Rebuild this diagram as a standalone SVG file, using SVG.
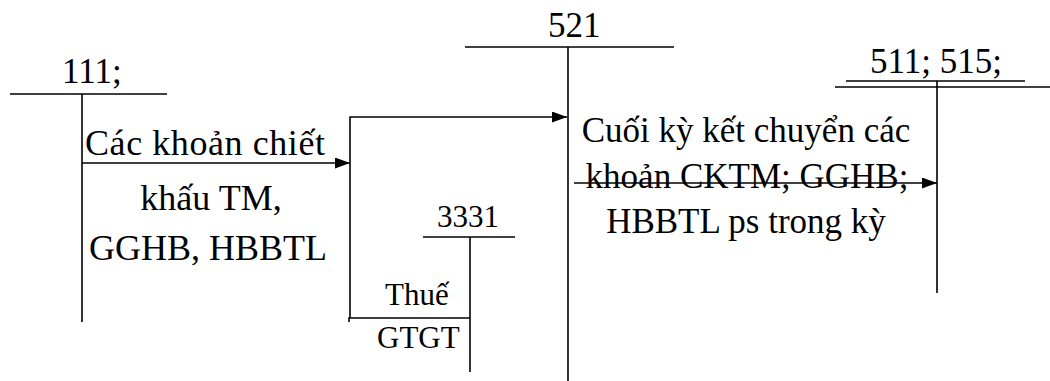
<svg xmlns="http://www.w3.org/2000/svg" width="1050" height="381" viewBox="0 0 1050 381">
<style>
  .ln { stroke: #000; stroke-width: 1.6; fill: none; }
  text { font-family: 'Liberation Serif', 'DejaVu Serif', serif; fill: #000; }
  .big { font-size: 35px; }
  .lft { font-size: 36px; }
  .mid { font-size: 31px; }
</style>
<defs>
  <marker id="arr" viewBox="0 0 15 11" refX="15" refY="5.5" markerWidth="15" markerHeight="11" markerUnits="userSpaceOnUse" orient="auto">
    <path d="M0,0 L15,5.5 L0,11 Z" fill="#000"/>
  </marker>
</defs>
<rect width="1050" height="381" fill="#fff"/>

<g id="acc111">
  <text class="big" x="62" y="83">111;</text>
  <line class="ln" x1="10" y1="94" x2="167" y2="94"/>
  <line class="ln" x1="82" y1="94" x2="82" y2="322"/>
</g>

<g id="acc521">
  <text class="big" x="548" y="37">521</text>
  <line class="ln" x1="465" y1="47" x2="674" y2="47"/>
  <line class="ln" x1="568" y1="47" x2="568" y2="381"/>
</g>

<g id="acc3331">
  <text class="mid" x="437" y="227">3331</text>
  <line class="ln" x1="423" y1="237" x2="515" y2="237"/>
  <line class="ln" x1="470" y1="237" x2="470" y2="372"/>
</g>

<g id="acc511">
  <text class="big" x="870" y="73">511; 515;</text>
  <line class="ln" x1="846" y1="81" x2="1025" y2="81"/>
  <line class="ln" x1="835" y1="87" x2="1050" y2="87"/>
  <line class="ln" x1="937" y1="81" x2="937" y2="293"/>
</g>

<g id="labels">
  <text class="lft" x="85" y="155" textLength="240" lengthAdjust="spacing">Các khoản chiết</text>
  <text class="lft" x="211" y="210" text-anchor="middle">khấu TM,</text>
  <text class="lft" x="208" y="260" text-anchor="middle">GGHB, HBBTL</text>
  <text class="big" x="746" y="142" text-anchor="middle">Cuối kỳ kết chuyển các</text>
  <text class="big" x="747" y="188" text-anchor="middle">khoản CKTM; GGHB;</text>
  <text class="big" x="746" y="233" text-anchor="middle">HBBTL ps trong kỳ</text>
  <text class="mid" x="385" y="305">Thuế</text>
  <text class="mid" x="377" y="348">GTGT</text>
</g>

<g id="connectors">
  <line class="ln" x1="82" y1="163" x2="350" y2="163" marker-end="url(#arr)"/>
  <polyline class="ln" points="470,318 349,318 349,322"/>
  <polyline class="ln" points="350,318 350,117 567,117" marker-end="url(#arr)"/>
  <line class="ln" x1="574" y1="183" x2="937" y2="183" marker-end="url(#arr)"/>
</g>
</svg>
